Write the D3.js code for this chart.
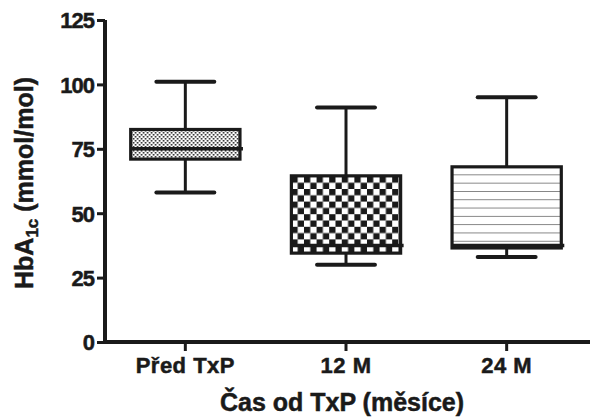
<!DOCTYPE html>
<html>
<head>
<meta charset="utf-8">
<script src="https://cdn.jsdelivr.net/npm/d3@7"></script>
<style>
    body { margin: 0; background: #fff; }
    text { font-family: "Liberation Sans", Arial, sans-serif; font-weight: bold; fill: #1a1a1a;
        stroke: #1a1a1a; stroke-width: 0.5px; }
</style>
</head>
<body>
<svg id="chart" width="590" height="420"></svg>
<script>
// box plot data
var groups = ["Před TxP", "12 M", "24 M"];
var minVals = [58, 30, 33];
var q1Vals = [71, 34.5, 36.5];
var medVals = [75, 37.5, 37.5];
var q3Vals = [82.5, 64.5, 68];
var maxVals = [101, 91, 95];
var yTicks = [0, 25, 50, 75, 100, 125];
var fills = ["url(#dots)", "url(#checks)", "url(#stripes)"];

var ink = "#1a1a1a";
var svg = d3.select("#chart");

var x = d3.scaleBand().domain(groups).range([105, 587])
        .paddingInner(0.32).paddingOuter(0.16);
var y = d3.scaleLinear().domain([0, 125]).range([342, 20]);

// fill patterns
var defs = svg.append("defs");
var dots = defs.append("pattern").attr("id", "dots")
        .attr("patternUnits", "userSpaceOnUse").attr("width", 4).attr("height", 4);
dots.append("rect").attr("width", 4).attr("height", 4).attr("fill", "#fff");
dots.append("rect").attr("width", 1.6).attr("height", 1.6).attr("fill", "#222");
dots.append("rect").attr("x", 2).attr("y", 2).attr("width", 1.6).attr("height", 1.6).attr("fill", "#222");

var checks = defs.append("pattern").attr("id", "checks")
        .attr("patternUnits", "userSpaceOnUse").attr("width", 12.6).attr("height", 12.6);
checks.append("rect").attr("width", 12.6).attr("height", 12.6).attr("fill", "#fff");
checks.append("rect").attr("width", 6.3).attr("height", 6.3).attr("fill", ink);
checks.append("rect").attr("x", 6.3).attr("y", 6.3).attr("width", 6.3).attr("height", 6.3).attr("fill", ink);

var stripes = defs.append("pattern").attr("id", "stripes")
        .attr("patternUnits", "userSpaceOnUse").attr("width", 10).attr("height", 8.3)
        .attr("y", 1);
stripes.append("rect").attr("width", 10).attr("height", 8.3).attr("fill", "#fff");
stripes.append("rect").attr("y", 7.6).attr("width", 10).attr("height", 1.3).attr("fill", "#555");

// rows for d3
var rows = groups.map(function(g, i) {
    return { name: g, min: minVals[i], q1: q1Vals[i], med: medVals[i],
        q3: q3Vals[i], max: maxVals[i], fill: fills[i] };
});

var bw = x.bandwidth();
var capW = bw * 0.53;

var box = svg.selectAll(".box").data(rows).enter().append("g")
        .attr("class", "box")
        .attr("transform", function(d) { return "translate(" + x(d.name) + ",0)"; });

// whiskers
box.append("line")
        .attr("x1", bw / 2).attr("x2", bw / 2)
        .attr("y1", function(d) { return y(d.max); })
        .attr("y2", function(d) { return y(d.min); })
        .attr("stroke", ink).attr("stroke-width", 3);
box.selectAll(".cap").data(function(d) { return [d.min, d.max]; })
        .enter().append("line").attr("class", "cap")
        .attr("x1", (bw - capW) / 2).attr("x2", (bw + capW) / 2)
        .attr("y1", function(v) { return y(v); })
        .attr("y2", function(v) { return y(v); })
        .attr("stroke", ink).attr("stroke-width", 4).attr("stroke-linecap", "round");

// box body
box.append("rect")
        .attr("x", 0).attr("width", bw)
        .attr("y", function(d) { return y(d.q3); })
        .attr("height", function(d) { return y(d.q1) - y(d.q3); })
        .attr("fill", function(d) { return d.fill; })
        .attr("stroke", ink).attr("stroke-width", 3.2);

// median
box.append("line")
        .attr("x1", 0).attr("x2", bw + 3)
        .attr("y1", function(d) { return y(d.med); })
        .attr("y2", function(d) { return y(d.med); })
        .attr("stroke", ink).attr("stroke-width", 3.5);

// axes
var yAxis = svg.append("g").attr("transform", "translate(105,0)")
        .call(d3.axisLeft(y).tickValues(yTicks).tickSize(8).tickPadding(3));
var xAxis = svg.append("g").attr("transform", "translate(0,342)")
        .call(d3.axisBottom(x).tickSize(9).tickPadding(6).tickSizeOuter(0));

[yAxis, xAxis].forEach(function(ax) {
    ax.select(".domain").attr("stroke", ink).attr("stroke-width", 4);
    ax.selectAll(".tick line").attr("stroke", ink).attr("stroke-width", 3);
    ax.selectAll(".tick text").attr("fill", ink).style("font-size", "22px");
});
yAxis.select(".domain").attr("d", "M0," + y(125) + "V" + (y(0) + 2));
xAxis.select(".domain").attr("d", "M103,0H590");
yAxis.selectAll(".tick text").attr("letter-spacing", "-1px").attr("dy", "0.36em");
xAxis.selectAll(".tick text").attr("letter-spacing", "0.5px");

// titles
svg.append("text")
        .attr("x", 342).attr("y", 411)
        .attr("text-anchor", "middle")
        .style("font-size", "25px")
        .text("Čas od TxP (měsíce)");

var yt = svg.append("text")
        .attr("transform", "translate(33,183) rotate(-90)")
        .attr("text-anchor", "middle")
        .style("font-size", "25px");
yt.append("tspan").text("HbA");
yt.append("tspan").attr("dy", 5).style("font-size", "17px").text("1c");
yt.append("tspan").attr("dy", -5).text(" (mmol/mol)");
</script>
</body>
</html>
